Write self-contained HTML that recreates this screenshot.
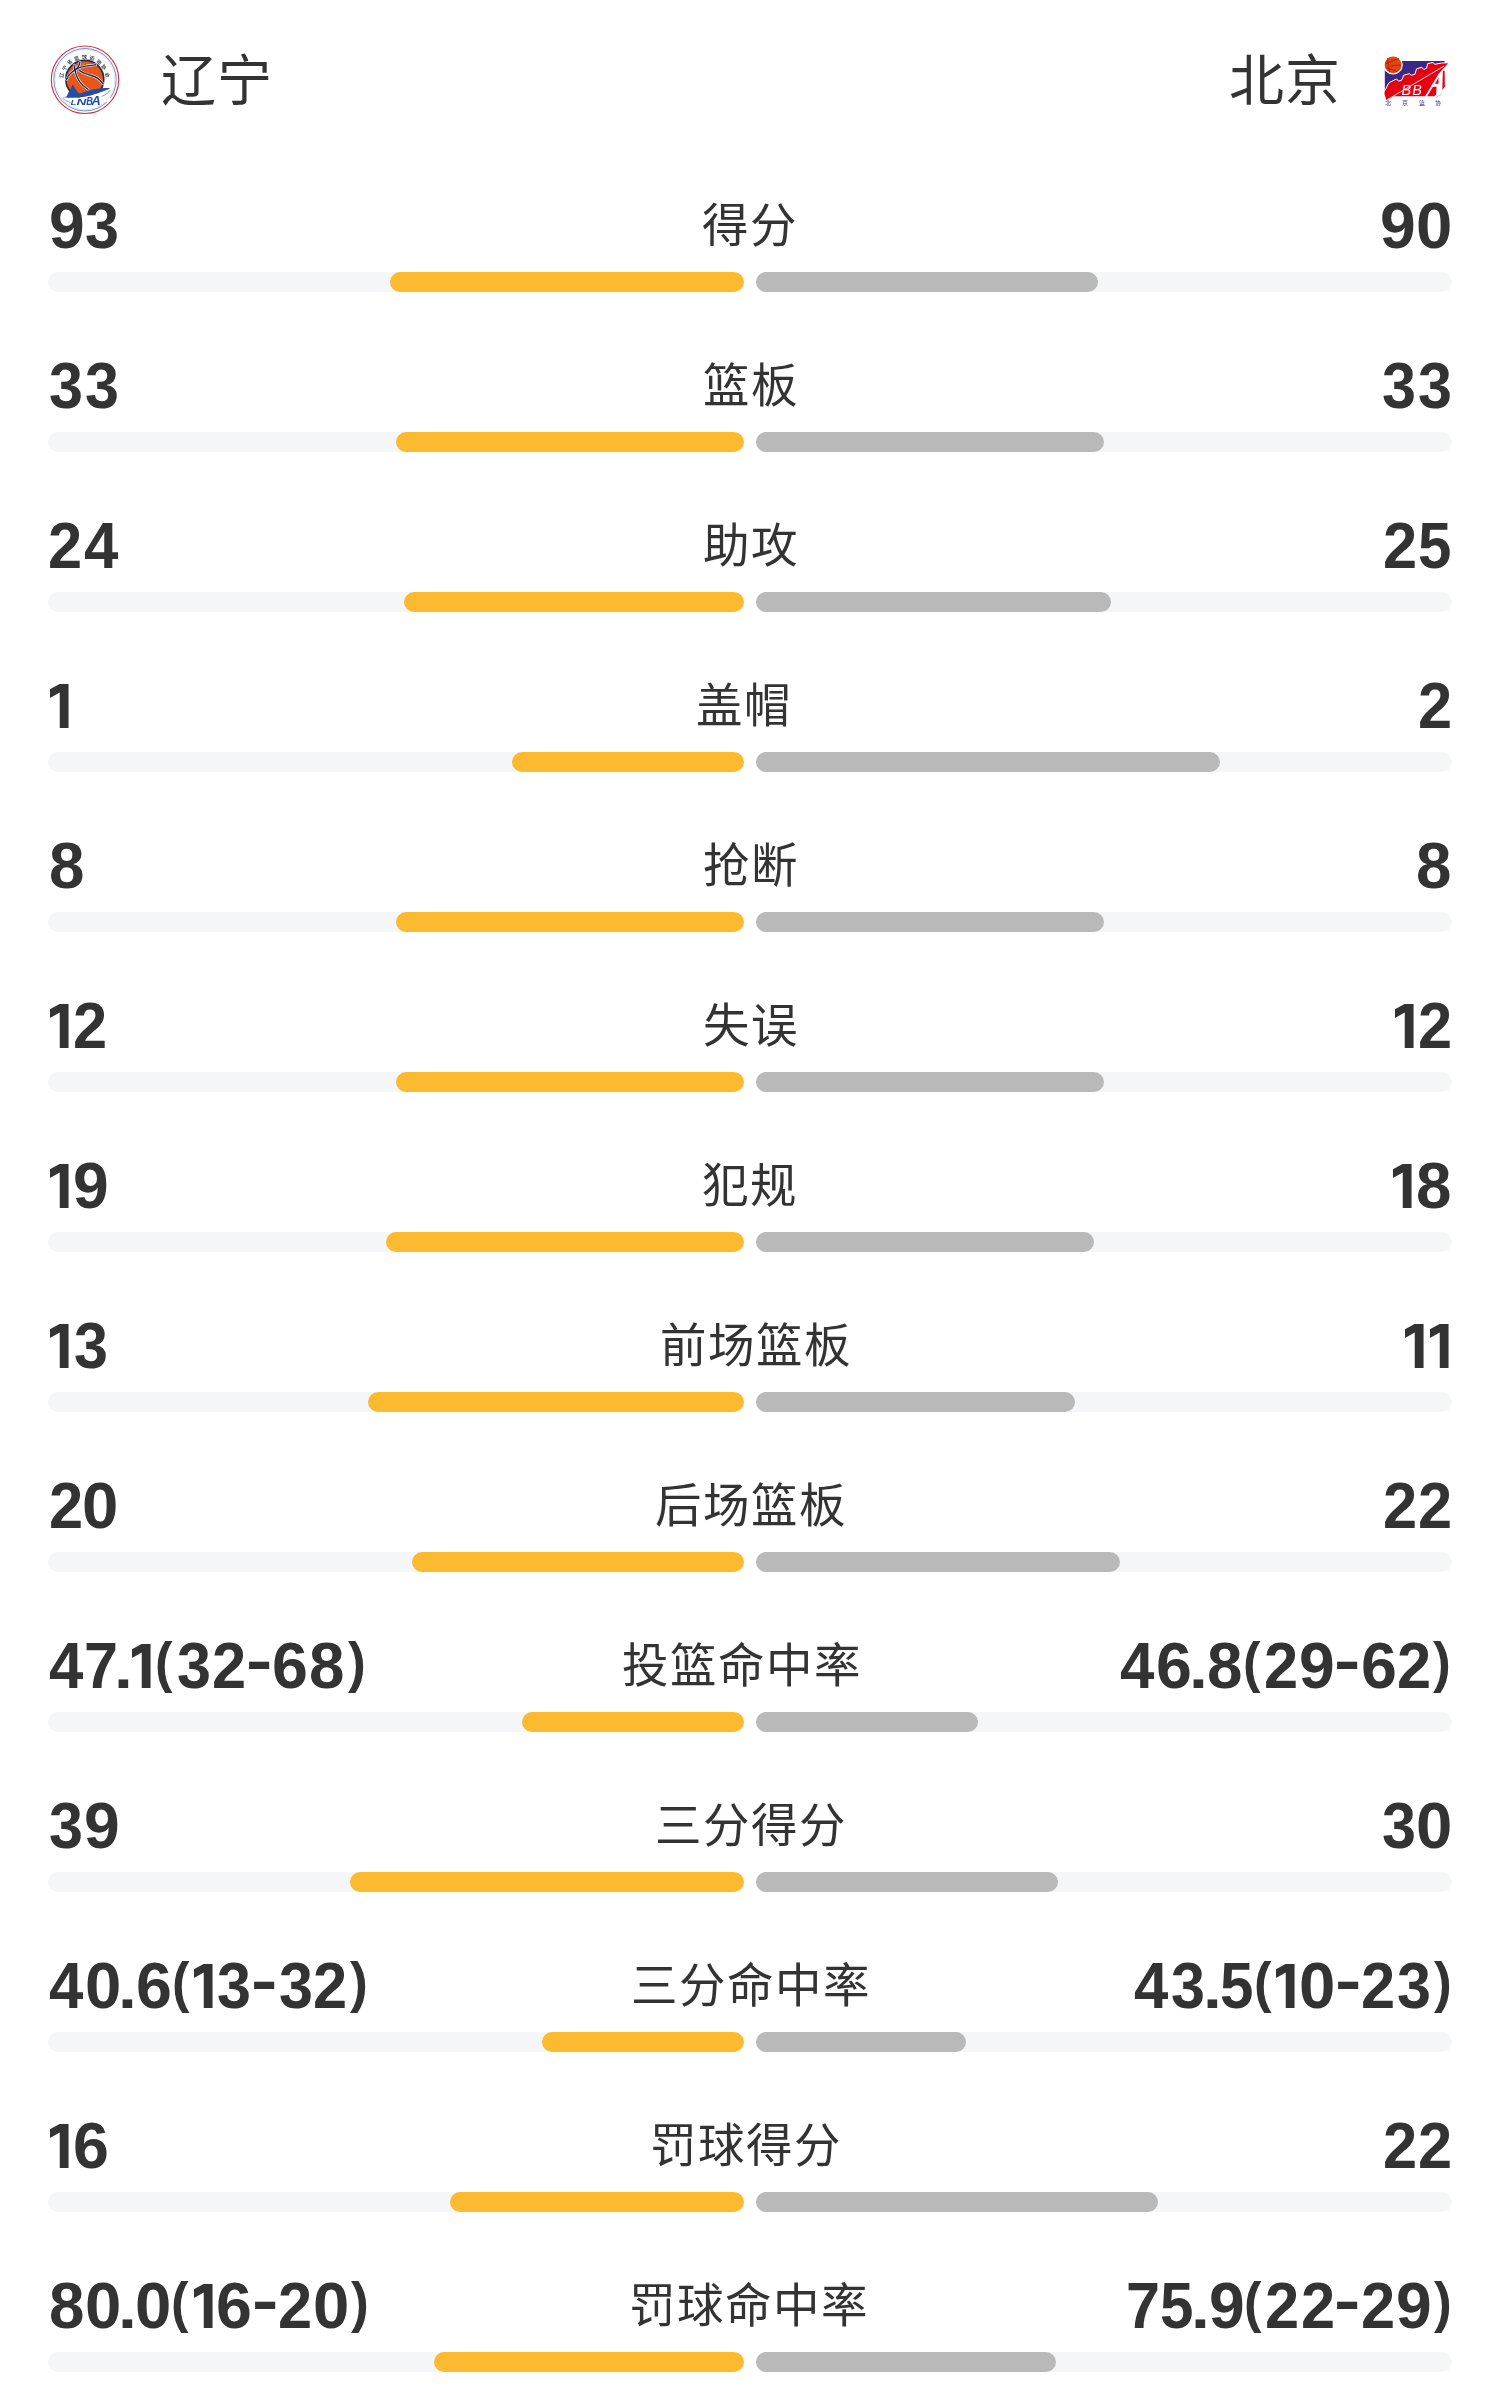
<!DOCTYPE html>
<html lang="zh-CN"><head><meta charset="utf-8"><title>stats</title><style>
html,body{margin:0;padding:0;background:#fff;width:1500px;height:2400px;overflow:hidden;position:relative}
body{font-family:"Liberation Sans",sans-serif;color:#333}
.g{position:absolute;font-family:"Liberation Sans",sans-serif;font-weight:700;font-size:64px;line-height:64px;white-space:nowrap;color:#333;transform-origin:0 0}
.g1{position:absolute;fill:#333;overflow:visible}
.t1{color:transparent;width:18px;overflow:hidden}
.lab{position:absolute;transform:translateZ(0);width:400px;text-align:center;font-size:46.5px;line-height:46.5px;letter-spacing:2px;white-space:nowrap;color:#333}
.tr{position:absolute;width:696px;height:20px;border-radius:10px;background:#f5f6f8}
.bo{position:absolute;height:20px;border-radius:10px;background:#fbba30}
.bg{position:absolute;height:20px;border-radius:10px;background:#b9b9b9}
.team{position:absolute;font-size:55px;line-height:55px;letter-spacing:1px;color:#333;white-space:nowrap}
</style></head><body>
<svg style="transform:translateZ(0);position:absolute;left:45px;top:40px" width="80" height="80" viewBox="0 0 1500 1500">
<defs><path id="arcLN" d="M 341 717 A 400 400 0 0 1 1137 700"/></defs>
<circle cx="750" cy="745" r="632" fill="#fff" stroke="#d3293f" stroke-width="20"/>
<circle cx="750" cy="745" r="585" fill="none" stroke="#3b67b4" stroke-width="14"/>
<circle cx="750" cy="745" r="560" fill="none" stroke="#9fb6dc" stroke-width="6"/>
<text style="font-family:'Liberation Sans',sans-serif;font-size:92px;font-weight:700" fill="#4a4a4a"><textPath href="#arcLN" startOffset="0" textLength="1183" lengthAdjust="spacing">辽宁省篮球运动协会</textPath></text>
<circle cx="746" cy="738" r="356" fill="#e8561a" stroke="#1c2754" stroke-width="30"/>
<g fill="none" stroke-linecap="round">
<g stroke="#fff" stroke-width="46">
<path d="M544 469 C 555 560, 590 700, 656 789 S 760 890, 808 924"/>
<path d="M656 412 C 640 500, 600 545, 555 570 S 440 660, 403 739"/>
<path d="M555 559 C 620 520, 700 500, 760 490 S 900 470, 954 463"/>
<path d="M634 564 C 690 610, 760 640, 881 671 S 1040 760, 1089 823"/>
</g>
<g stroke="#1c2754" stroke-width="26">
<path d="M544 469 C 555 560, 590 700, 656 789 S 760 890, 808 924"/>
<path d="M656 412 C 640 500, 600 545, 555 570 S 440 660, 403 739"/>
<path d="M555 559 C 620 520, 700 500, 760 490 S 900 470, 954 463"/>
<path d="M634 564 C 690 610, 760 640, 881 671 S 1040 760, 1089 823"/>
</g>
</g>
<path d="M380 1078 C 560 1092, 760 1066, 880 1032 C 1000 992, 1150 950, 1222 905 L 1222 1160 L 380 1160 Z" fill="#fff"/>
<path d="M400 1080 L 431 1003 L 450 960 L 480 930 L 500 870 L 521 834 L 560 900 L 600 960 L 640 1010 L 660 1080 Z" fill="#1f4fa8"/>
<path d="M330 1072 C 480 1060, 650 1000, 825 947 C 940 912, 1100 890, 1222 905 C 1150 950, 1000 990, 880 1030 C 760 1065, 560 1090, 330 1072 Z" fill="#1f4fa8"/>
<path d="M330 1090 C 380 1130, 430 1160, 480 1170" stroke="#1f4fa8" stroke-width="10" fill="none"/>
<path d="M1060 1060 C 1150 1020, 1200 980, 1220 940" stroke="#1f4fa8" stroke-width="10" fill="none"/>
<g style="font-family:'Liberation Sans',sans-serif;font-style:italic;font-weight:700" fill="#1f4fa8">
<text x="482" y="1210" style="font-size:140px" textLength="100" lengthAdjust="spacingAndGlyphs">L</text>
<text x="592" y="1210" style="font-size:175px" textLength="185" lengthAdjust="spacingAndGlyphs">N</text>
<text x="772" y="1210" style="font-size:200px" textLength="125" lengthAdjust="spacingAndGlyphs">B</text>
<text x="872" y="1210" style="font-size:250px" textLength="175" lengthAdjust="spacingAndGlyphs">A</text>
</g>
</svg>
<svg style="transform:translateZ(0);position:absolute;left:1375px;top:50px" width="80" height="60" viewBox="0 0 1500 1125">
<path d="M184 204 L 1305 204 L 1305 244 L 1250 244 L 1120 269 L 1090 234 L 990 254 L 965 344 L 915 364 L 875 324 L 779 354 L 749 454 L 684 474 L 644 444 L 534 474 L 519 529 L 494 569 L 444 584 L 404 544 L 319 584 L 258 619 L 184 764 Z" fill="#3a2889"/>
<path d="M184 764 L 258 619 L 319 584 L 404 544 L 444 584 L 494 569 L 519 529 L 534 474 L 644 444 L 684 474 L 749 454 L 779 354 L 875 324 L 915 364 L 965 344 L 990 254 L 1090 234 L 1120 269 L 1250 244 L 1380 240 L 1190 450 L 940 866 L 358 866 L 213 944 L 176 819 Z" fill="#e60012"/>
<path d="M184 764 L 258 619 L 319 584 L 404 544 L 444 584 L 494 569 L 519 529 L 534 474 L 644 444 L 684 474 L 749 454 L 779 354 L 875 324 L 915 364 L 965 344 L 990 254 L 1090 234 L 1120 269 L 1250 244 L 1380 240" fill="none" stroke="#fff" stroke-width="18" stroke-linejoin="round"/>
<path d="M218 938 L 1290 304" stroke="#fff" stroke-width="16"/>
<path d="M1122 634 L 1192 520 L 1190 634 Z" fill="#e60012"/>
<path d="M1087 688 L 1155 688 L 1145 840 L 1110 866 L 977 866 Z" fill="#e60012"/>
<path d="M1272 394 L 1305 384 L 1310 690 L 1262 752 Z" fill="#e60012"/>
<path d="M1145 894 L 1250 829" stroke="#f06070" stroke-width="10"/>
<g style="font-family:'Liberation Sans',sans-serif;font-style:italic;font-weight:400" fill="#fff">
<text x="495" y="840" style="font-size:270px">B</text>
<text x="700" y="840" style="font-size:270px">B</text>
</g>
<circle cx="339" cy="279" r="170" fill="#e8420f" stroke="#fff" stroke-width="24"/>
<g fill="none" stroke="#8a2010" stroke-width="14">
<path d="M194 259 C 280 220, 380 180, 454 159"/>
<path d="M300 300 C 380 285, 430 285, 484 286"/>
<path d="M209 334 C 300 360, 360 380, 419 404"/>
<path d="M234 149 C 250 250, 262 340, 274 419"/>
</g>
<g style="font-family:'Liberation Sans',sans-serif;font-size:115px" fill="#4a3a95">
<text x="195" y="1030">北</text>
<text x="505" y="1030">京</text>
<text x="820" y="1030">篮</text>
<text x="1125" y="1030">协</text>
</g>
</svg>

<div class="team" style="left:161px;top:54px">辽宁</div>
<div class="team" style="left:1229px;top:54px">北京</div>
<div class="tr" style="top:272px;left:48px"></div><div class="tr" style="top:272px;left:756px"></div>
<div class="bo" style="top:272px;left:390px;width:354px"></div>
<div class="bg" style="top:272px;left:756px;width:342px"></div>
<div class="lab" style="left:550.15px;top:203.0px">得分</div>
<span class="g" style="left:48.67px;top:192.78px;transform:scale(1.0031,1.0244)">9</span><span class="g" style="left:85.35px;top:192.78px;transform:scale(0.9549,1.0244)">3</span>
<span class="g" style="left:1380.22px;top:192.78px;transform:scale(1.0031,1.0244)">9</span><span class="g" style="left:1415.94px;top:192.78px;transform:scale(1.0207,1.0244)">0</span>
<div class="tr" style="top:432px;left:48px"></div><div class="tr" style="top:432px;left:756px"></div>
<div class="bo" style="top:432px;left:396px;width:348px"></div>
<div class="bg" style="top:432px;left:756px;width:348px"></div>
<div class="lab" style="left:550.55px;top:363.0px">篮板</div>
<span class="g" style="left:48.55px;top:352.78px;transform:scale(0.9549,1.0244)">3</span><span class="g" style="left:84.90px;top:352.78px;transform:scale(0.9549,1.0244)">3</span>
<span class="g" style="left:1382.10px;top:352.78px;transform:scale(0.9549,1.0244)">3</span><span class="g" style="left:1417.70px;top:352.78px;transform:scale(0.9549,1.0244)">3</span>
<div class="tr" style="top:592px;left:48px"></div><div class="tr" style="top:592px;left:756px"></div>
<div class="bo" style="top:592px;left:404px;width:340px"></div>
<div class="bg" style="top:592px;left:756px;width:355px"></div>
<div class="lab" style="left:551.45px;top:523.0px">助攻</div>
<span class="g" style="left:48.38px;top:512.78px;transform:scale(0.9592,1.0244)">2</span><span class="g" style="left:83.94px;top:512.78px;transform:scale(0.9643,1.0244)">4</span>
<span class="g" style="left:1382.63px;top:512.78px;transform:scale(0.9592,1.0244)">2</span><span class="g" style="left:1417.73px;top:512.78px;transform:scale(0.9392,1.0244)">5</span>
<div class="tr" style="top:752px;left:48px"></div><div class="tr" style="top:752px;left:756px"></div>
<div class="bo" style="top:752px;left:512px;width:232px"></div>
<div class="bg" style="top:752px;left:756px;width:464px"></div>
<div class="lab" style="left:544.25px;top:683.0px">盖帽</div>
<span class="g t1" style="left:47.68px;top:675.00px">1</span><svg class="g1" style="left:49.68px;top:684.00px" width="18.55" height="43.9" viewBox="0 0 18.55 43.9"><polygon points="0,5.2 9.6,0 18.55,0 18.55,43.9 9.75,43.9 9.75,8.4 0,14.0"/></svg>
<span class="g" style="left:1418.08px;top:672.78px;transform:scale(0.9592,1.0244)">2</span>
<div class="tr" style="top:912px;left:48px"></div><div class="tr" style="top:912px;left:756px"></div>
<div class="bo" style="top:912px;left:396px;width:348px"></div>
<div class="bg" style="top:912px;left:756px;width:348px"></div>
<div class="lab" style="left:550.85px;top:843.0px">抢断</div>
<span class="g" style="left:48.85px;top:832.78px;transform:scale(0.9959,1.0244)">8</span>
<span class="g" style="left:1415.80px;top:832.78px;transform:scale(0.9959,1.0244)">8</span>
<div class="tr" style="top:1072px;left:48px"></div><div class="tr" style="top:1072px;left:756px"></div>
<div class="bo" style="top:1072px;left:396px;width:348px"></div>
<div class="bg" style="top:1072px;left:756px;width:348px"></div>
<div class="lab" style="left:550.55px;top:1003.0px">失误</div>
<span class="g t1" style="left:47.68px;top:995.00px">1</span><svg class="g1" style="left:49.68px;top:1004.00px" width="18.55" height="43.9" viewBox="0 0 18.55 43.9"><polygon points="0,5.2 9.6,0 18.55,0 18.55,43.9 9.75,43.9 9.75,8.4 0,14.0"/></svg><span class="g" style="left:73.23px;top:992.78px;transform:scale(0.9592,1.0244)">2</span>
<span class="g t1" style="left:1392.58px;top:995.00px">1</span><svg class="g1" style="left:1394.58px;top:1004.00px" width="18.55" height="43.9" viewBox="0 0 18.55 43.9"><polygon points="0,5.2 9.6,0 18.55,0 18.55,43.9 9.75,43.9 9.75,8.4 0,14.0"/></svg><span class="g" style="left:1418.18px;top:992.78px;transform:scale(0.9592,1.0244)">2</span>
<div class="tr" style="top:1232px;left:48px"></div><div class="tr" style="top:1232px;left:756px"></div>
<div class="bo" style="top:1232px;left:386px;width:358px"></div>
<div class="bg" style="top:1232px;left:756px;width:338px"></div>
<div class="lab" style="left:550.15px;top:1163.0px">犯规</div>
<span class="g t1" style="left:47.73px;top:1155.00px">1</span><svg class="g1" style="left:49.73px;top:1164.00px" width="18.55" height="43.9" viewBox="0 0 18.55 43.9"><polygon points="0,5.2 9.6,0 18.55,0 18.55,43.9 9.75,43.9 9.75,8.4 0,14.0"/></svg><span class="g" style="left:72.92px;top:1152.78px;transform:scale(1.0031,1.0244)">9</span>
<span class="g t1" style="left:1390.58px;top:1155.00px">1</span><svg class="g1" style="left:1392.58px;top:1164.00px" width="18.55" height="43.9" viewBox="0 0 18.55 43.9"><polygon points="0,5.2 9.6,0 18.55,0 18.55,43.9 9.75,43.9 9.75,8.4 0,14.0"/></svg><span class="g" style="left:1416.05px;top:1152.78px;transform:scale(0.9959,1.0244)">8</span>
<div class="tr" style="top:1392px;left:48px"></div><div class="tr" style="top:1392px;left:756px"></div>
<div class="bo" style="top:1392px;left:368px;width:376px"></div>
<div class="bg" style="top:1392px;left:756px;width:319px"></div>
<div class="lab" style="left:556.15px;top:1323.0px">前场篮板</div>
<span class="g t1" style="left:47.73px;top:1315.00px">1</span><svg class="g1" style="left:49.73px;top:1324.00px" width="18.55" height="43.9" viewBox="0 0 18.55 43.9"><polygon points="0,5.2 9.6,0 18.55,0 18.55,43.9 9.75,43.9 9.75,8.4 0,14.0"/></svg><span class="g" style="left:73.65px;top:1312.78px;transform:scale(0.9549,1.0244)">3</span>
<span class="g t1" style="left:1403.33px;top:1315.00px">1</span><svg class="g1" style="left:1405.33px;top:1324.00px" width="18.55" height="43.9" viewBox="0 0 18.55 43.9"><polygon points="0,5.2 9.6,0 18.55,0 18.55,43.9 9.75,43.9 9.75,8.4 0,14.0"/></svg><span class="g t1" style="left:1427.93px;top:1315.00px">1</span><svg class="g1" style="left:1429.93px;top:1324.00px" width="18.55" height="43.9" viewBox="0 0 18.55 43.9"><polygon points="0,5.2 9.6,0 18.55,0 18.55,43.9 9.75,43.9 9.75,8.4 0,14.0"/></svg>
<div class="tr" style="top:1552px;left:48px"></div><div class="tr" style="top:1552px;left:756px"></div>
<div class="bo" style="top:1552px;left:412px;width:332px"></div>
<div class="bg" style="top:1552px;left:756px;width:364px"></div>
<div class="lab" style="left:551.25px;top:1483.0px">后场篮板</div>
<span class="g" style="left:48.78px;top:1472.78px;transform:scale(0.9592,1.0244)">2</span><span class="g" style="left:82.49px;top:1472.78px;transform:scale(1.0207,1.0244)">0</span>
<span class="g" style="left:1382.88px;top:1472.78px;transform:scale(0.9592,1.0244)">2</span><span class="g" style="left:1418.18px;top:1472.78px;transform:scale(0.9592,1.0244)">2</span>
<div class="tr" style="top:1712px;left:48px"></div><div class="tr" style="top:1712px;left:756px"></div>
<div class="bo" style="top:1712px;left:522px;width:222px"></div>
<div class="bg" style="top:1712px;left:756px;width:222px"></div>
<div class="lab" style="left:542.15px;top:1643.0px">投篮命中率</div>
<span class="g" style="left:49.09px;top:1632.78px;transform:scale(0.9643,1.0244)">4</span><span class="g" style="left:83.72px;top:1632.78px;transform:scale(0.9563,1.0244)">7</span><span class="g" style="left:114.27px;top:1638.84px;transform:scale(1.0583,0.9103)">.</span><span class="g t1" style="left:130.18px;top:1635.00px">1</span><svg class="g1" style="left:132.18px;top:1644.00px" width="18.55" height="43.9" viewBox="0 0 18.55 43.9"><polygon points="0,5.2 9.6,0 18.55,0 18.55,43.9 9.75,43.9 9.75,8.4 0,14.0"/></svg><span class="g" style="left:155.03px;top:1633.88px;transform:scale(0.8212,0.8750)">(</span><span class="g" style="left:176.80px;top:1632.78px;transform:scale(0.9549,1.0244)">3</span><span class="g" style="left:211.68px;top:1632.78px;transform:scale(0.9592,1.0244)">2</span><span class="g" style="left:245.51px;top:1628.75px;transform:scale(1.2375,0.9574)">-</span><span class="g" style="left:271.76px;top:1632.78px;transform:scale(1.0076,1.0244)">6</span><span class="g" style="left:308.90px;top:1632.78px;transform:scale(0.9959,1.0244)">8</span><span class="g" style="left:347.54px;top:1633.88px;transform:scale(0.8355,0.8750)">)</span>
<span class="g" style="left:1119.59px;top:1632.78px;transform:scale(0.9643,1.0244)">4</span><span class="g" style="left:1155.86px;top:1632.78px;transform:scale(1.0076,1.0244)">6</span><span class="g" style="left:1189.02px;top:1638.84px;transform:scale(1.0583,0.9103)">.</span><span class="g" style="left:1206.85px;top:1632.78px;transform:scale(0.9959,1.0244)">8</span><span class="g" style="left:1242.68px;top:1633.88px;transform:scale(0.8212,0.8750)">(</span><span class="g" style="left:1264.03px;top:1632.78px;transform:scale(0.9592,1.0244)">2</span><span class="g" style="left:1298.52px;top:1632.78px;transform:scale(1.0031,1.0244)">9</span><span class="g" style="left:1334.26px;top:1628.75px;transform:scale(1.2375,0.9574)">-</span><span class="g" style="left:1360.76px;top:1632.78px;transform:scale(1.0076,1.0244)">6</span><span class="g" style="left:1397.33px;top:1632.78px;transform:scale(0.9592,1.0244)">2</span><span class="g" style="left:1432.99px;top:1633.88px;transform:scale(0.8355,0.8750)">)</span>
<div class="tr" style="top:1872px;left:48px"></div><div class="tr" style="top:1872px;left:756px"></div>
<div class="bo" style="top:1872px;left:350px;width:394px"></div>
<div class="bg" style="top:1872px;left:756px;width:302px"></div>
<div class="lab" style="left:550.75px;top:1803.0px">三分得分</div>
<span class="g" style="left:49.10px;top:1792.78px;transform:scale(0.9549,1.0244)">3</span><span class="g" style="left:84.17px;top:1792.78px;transform:scale(1.0031,1.0244)">9</span>
<span class="g" style="left:1381.75px;top:1792.78px;transform:scale(0.9549,1.0244)">3</span><span class="g" style="left:1415.64px;top:1792.78px;transform:scale(1.0207,1.0244)">0</span>
<div class="tr" style="top:2032px;left:48px"></div><div class="tr" style="top:2032px;left:756px"></div>
<div class="bo" style="top:2032px;left:542px;width:202px"></div>
<div class="bg" style="top:2032px;left:756px;width:210px"></div>
<div class="lab" style="left:551.25px;top:1963.0px">三分命中率</div>
<span class="g" style="left:49.19px;top:1952.78px;transform:scale(0.9643,1.0244)">4</span><span class="g" style="left:85.29px;top:1952.78px;transform:scale(1.0207,1.0244)">0</span><span class="g" style="left:118.22px;top:1958.84px;transform:scale(1.0583,0.9103)">.</span><span class="g" style="left:135.61px;top:1952.78px;transform:scale(1.0076,1.0244)">6</span><span class="g" style="left:171.93px;top:1953.88px;transform:scale(0.8212,0.8750)">(</span><span class="g t1" style="left:191.73px;top:1955.00px">1</span><svg class="g1" style="left:193.73px;top:1964.00px" width="18.55" height="43.9" viewBox="0 0 18.55 43.9"><polygon points="0,5.2 9.6,0 18.55,0 18.55,43.9 9.75,43.9 9.75,8.4 0,14.0"/></svg><span class="g" style="left:217.35px;top:1952.78px;transform:scale(0.9549,1.0244)">3</span><span class="g" style="left:251.26px;top:1948.75px;transform:scale(1.2375,0.9574)">-</span><span class="g" style="left:278.60px;top:1952.78px;transform:scale(0.9549,1.0244)">3</span><span class="g" style="left:313.23px;top:1952.78px;transform:scale(0.9592,1.0244)">2</span><span class="g" style="left:350.14px;top:1953.88px;transform:scale(0.8355,0.8750)">)</span>
<span class="g" style="left:1133.94px;top:1952.78px;transform:scale(0.9643,1.0244)">4</span><span class="g" style="left:1171.00px;top:1952.78px;transform:scale(0.9549,1.0244)">3</span><span class="g" style="left:1203.07px;top:1958.84px;transform:scale(1.0583,0.9103)">.</span><span class="g" style="left:1220.08px;top:1952.78px;transform:scale(0.9392,1.0244)">5</span><span class="g" style="left:1254.08px;top:1953.88px;transform:scale(0.8212,0.8750)">(</span><span class="g t1" style="left:1274.43px;top:1955.00px">1</span><svg class="g1" style="left:1276.43px;top:1964.00px" width="18.55" height="43.9" viewBox="0 0 18.55 43.9"><polygon points="0,5.2 9.6,0 18.55,0 18.55,43.9 9.75,43.9 9.75,8.4 0,14.0"/></svg><span class="g" style="left:1298.84px;top:1952.78px;transform:scale(1.0207,1.0244)">0</span><span class="g" style="left:1334.86px;top:1948.75px;transform:scale(1.2375,0.9574)">-</span><span class="g" style="left:1361.48px;top:1952.78px;transform:scale(0.9592,1.0244)">2</span><span class="g" style="left:1397.10px;top:1952.78px;transform:scale(0.9549,1.0244)">3</span><span class="g" style="left:1433.54px;top:1953.88px;transform:scale(0.8355,0.8750)">)</span>
<div class="tr" style="top:2192px;left:48px"></div><div class="tr" style="top:2192px;left:756px"></div>
<div class="bo" style="top:2192px;left:450px;width:294px"></div>
<div class="bg" style="top:2192px;left:756px;width:402px"></div>
<div class="lab" style="left:546.35px;top:2123.0px">罚球得分</div>
<span class="g t1" style="left:47.73px;top:2115.00px">1</span><svg class="g1" style="left:49.73px;top:2124.00px" width="18.55" height="43.9" viewBox="0 0 18.55 43.9"><polygon points="0,5.2 9.6,0 18.55,0 18.55,43.9 9.75,43.9 9.75,8.4 0,14.0"/></svg><span class="g" style="left:72.61px;top:2112.78px;transform:scale(1.0076,1.0244)">6</span>
<span class="g" style="left:1382.88px;top:2112.78px;transform:scale(0.9592,1.0244)">2</span><span class="g" style="left:1418.18px;top:2112.78px;transform:scale(0.9592,1.0244)">2</span>
<div class="tr" style="top:2352px;left:48px"></div><div class="tr" style="top:2352px;left:756px"></div>
<div class="bo" style="top:2352px;left:434px;width:310px"></div>
<div class="bg" style="top:2352px;left:756px;width:300px"></div>
<div class="lab" style="left:548.65px;top:2283.0px">罚球命中率</div>
<span class="g" style="left:49.00px;top:2272.78px;transform:scale(0.9959,1.0244)">8</span><span class="g" style="left:84.99px;top:2272.78px;transform:scale(1.0207,1.0244)">0</span><span class="g" style="left:118.22px;top:2278.84px;transform:scale(1.0583,0.9103)">.</span><span class="g" style="left:135.19px;top:2272.78px;transform:scale(1.0207,1.0244)">0</span><span class="g" style="left:171.33px;top:2273.88px;transform:scale(0.8212,0.8750)">(</span><span class="g t1" style="left:191.73px;top:2275.00px">1</span><svg class="g1" style="left:193.73px;top:2284.00px" width="18.55" height="43.9" viewBox="0 0 18.55 43.9"><polygon points="0,5.2 9.6,0 18.55,0 18.55,43.9 9.75,43.9 9.75,8.4 0,14.0"/></svg><span class="g" style="left:216.41px;top:2272.78px;transform:scale(1.0076,1.0244)">6</span><span class="g" style="left:251.81px;top:2268.75px;transform:scale(1.2375,0.9574)">-</span><span class="g" style="left:278.33px;top:2272.78px;transform:scale(0.9592,1.0244)">2</span><span class="g" style="left:312.59px;top:2272.78px;transform:scale(1.0207,1.0244)">0</span><span class="g" style="left:351.29px;top:2273.88px;transform:scale(0.8355,0.8750)">)</span>
<span class="g" style="left:1126.02px;top:2272.78px;transform:scale(0.9563,1.0244)">7</span><span class="g" style="left:1159.78px;top:2272.78px;transform:scale(0.9392,1.0244)">5</span><span class="g" style="left:1191.42px;top:2278.84px;transform:scale(1.0583,0.9103)">.</span><span class="g" style="left:1208.62px;top:2272.78px;transform:scale(1.0031,1.0244)">9</span><span class="g" style="left:1244.33px;top:2273.88px;transform:scale(0.8212,0.8750)">(</span><span class="g" style="left:1265.38px;top:2272.78px;transform:scale(0.9592,1.0244)">2</span><span class="g" style="left:1300.58px;top:2272.78px;transform:scale(0.9592,1.0244)">2</span><span class="g" style="left:1334.06px;top:2268.75px;transform:scale(1.2375,0.9574)">-</span><span class="g" style="left:1360.58px;top:2272.78px;transform:scale(0.9592,1.0244)">2</span><span class="g" style="left:1395.72px;top:2272.78px;transform:scale(1.0031,1.0244)">9</span><span class="g" style="left:1433.54px;top:2273.88px;transform:scale(0.8355,0.8750)">)</span>
</body></html>
